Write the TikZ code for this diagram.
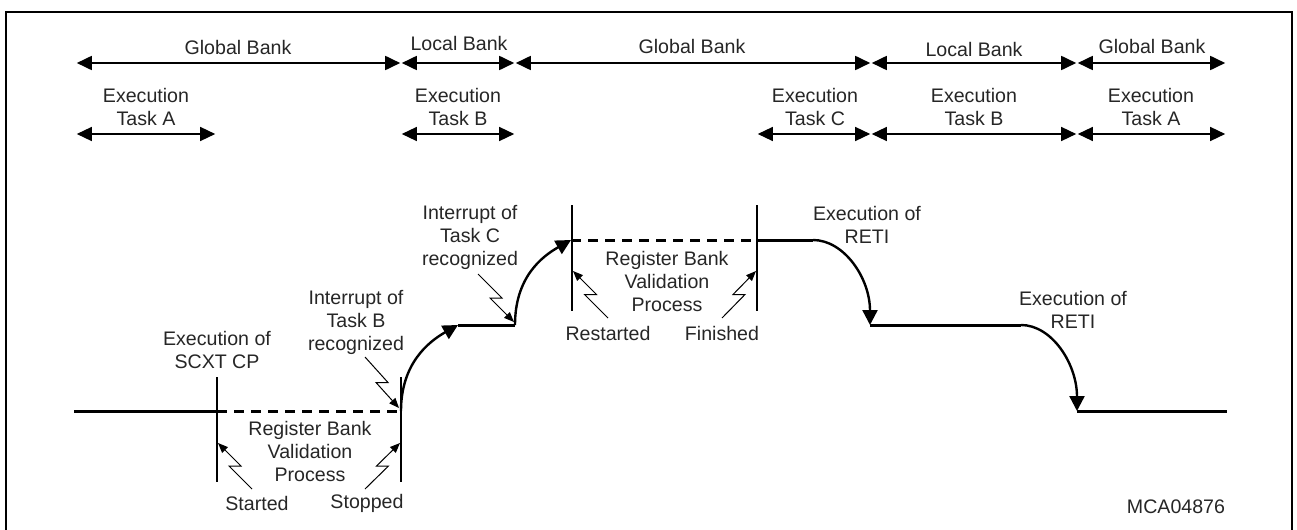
\documentclass[tikz,border=0pt]{standalone}
\usepackage{fontspec}
\setmainfont{Liberation Sans}
\usetikzlibrary{arrows.meta, calc}

\tikzset{
        bankspan/.style={{Triangle[length=7.5pt,width=7pt]}-{Triangle[length=7.5pt,width=7pt]}, line width=0.9pt, shorten <=0.4pt, shorten >=0.4pt},
        taskspan/.style={bankspan, line width=0.7pt},
        level/.style={line width=1.5pt},
        pending/.style={level, dash pattern=on 5pt off 3.5pt},
        lift/.style={-{Triangle[length=7.5pt,width=7.5pt]}, line width=1.2pt},
        marker/.style={line width=1.1pt},
        zap/.style={-{Triangle[length=5pt,width=4pt]}, line width=0.5pt},
        lbl/.style={align=center, inner sep=0pt, text=black!85}
}
\newcommand{\zig}[3]{\draw[zap] (#1) -- ($(#1)!0.5!(#2)+(#3,0)$) -- ($(#1)!0.5!(#2)-(#3,0)$) -- (#2);}

\begin{document}
\begin{tikzpicture}[x=0.5pt, y=-0.5pt, font=\fontsize{9.8}{11.5}\selectfont]
        \useasboundingbox (0,0) rectangle (1297,530);
        \draw[line width=1.1pt] (6,540) -- (6,12) -- (1292,12) -- (1292,540);

        \foreach \x [count=\i] in {76,401,515,871,1077,1226} {
        \coordinate (g\i) at (\x,63);
        }
        \foreach \i/\j in {1/2,2/3,3/4,4/5,5/6} {
        \draw[bankspan] (g\i) -- (g\j);
        }
        \node[lbl] (gbA) at (238,47) {Global Bank};
        \node[lbl] (lbB) at (459,43) {Local Bank};
        \node[lbl] (gbC) at (692,46) {Global Bank};
        \node[lbl] (lbD) at (974,49) {Local Bank};
        \node[lbl] (gbE) at (1152,46) {Global Bank};

        \foreach \x [count=\i] in {76,216,401,515,757,871,1077,1226} {
        \coordinate (t\i) at (\x,134);
        }
        \foreach \i/\j in {1/2,3/4,5/6,6/7,7/8} {
        \draw[taskspan] (t\i) -- (t\j);
        }
        \node[lbl] (exA) at (146,107) {Execution\\Task A};
        \node[lbl] (exB) at (458,107) {Execution\\Task B};
        \node[lbl] (exC) at (815,107) {Execution\\Task C};
        \node[lbl] (exD) at (974,107) {Execution\\Task B};
        \node[lbl] (exE) at (1151,107) {Execution\\Task A};

        \coordinate (w0) at (74,411);
        \coordinate (w1) at (217,411);
        \coordinate (w2) at (401,411);
        \coordinate (w3) at (458,325);
        \coordinate (w4) at (515,325);
        \coordinate (w5) at (571,240);
        \coordinate (w6) at (757,240);
        \coordinate (w7) at (813,240);
        \coordinate (w8) at (870,325);
        \coordinate (w9) at (1021,325);
        \coordinate (w10) at (1077,411);
        \coordinate (w11) at (1227,411);

        \draw[level] (w0) -- (w1);
        \draw[pending] (w1) -- (w2);
        \draw[lift] (w2) .. controls +(0,-47) and +(-30,17) .. (w3);
        \draw[level] (w3) -- (w4);
        \draw[lift] (w4) .. controls +(0,-47) and +(-30,17) .. (w5);
        \draw[pending] (w5) -- (w6);
        \draw[level] (w6) -- (w7);
        \draw[lift] (w7) .. controls +(31,0) and +(0,-47) .. (w8);
        \draw[level] (w8) -- (w9);
        \draw[lift] (w9) .. controls +(31,0) and +(0,-47) .. (w10);
        \draw[level] (w10) -- (w11);

        \foreach \x/\a/\b in {217/377/482, 401/377/482, 572/205/311, 757/205/311} {
        \draw[marker] (\x,\a) -- (\x,\b);
        }

        \node[lbl] (scxt) at (217,350) {Execution of\\SCXT CP};
        \node[lbl] (intB) at (356,322) {Interrupt of\\Task B\\recognized};
        \node[lbl] (intC) at (470,237) {Interrupt of\\Task C\\recognized};
        \node[lbl] (rbvA) at (310,451) {Register Bank\\Validation\\Process};
        \node[lbl] (rbvB) at (667,281) {Register Bank\\Validation\\Process};
        \node[lbl] (strt) at (257,503) {Started};
        \node[lbl] (stop) at (367,503) {Stopped};
        \node[lbl] (rstr) at (608,333) {Restarted};
        \node[lbl] (fini) at (722,333) {Finished};
        \node[lbl] (retA) at (867,225) {Execution of\\RETI};
        \node[lbl] (retB) at (1073,310) {Execution of\\RETI};
        \node[lbl] (code) at (1176,507) {MCA04876};

        \coordinate (zA) at (252,489);
        \coordinate (zA') at (218,443);
        \coordinate (zB) at (365,489);
        \coordinate (zB') at (400,443);
        \coordinate (zC) at (365,357);
        \coordinate (zC') at (399,408);
        \coordinate (zD) at (478,274);
        \coordinate (zD') at (514,322);
        \coordinate (zE) at (608,318);
        \coordinate (zE') at (573,271);
        \coordinate (zF) at (722,318);
        \coordinate (zF') at (756,271);
        \zig{zA}{zA'}{-6}
        \zig{zB}{zB'}{6}
        \zig{zC}{zC'}{6}
        \zig{zD}{zD'}{6}
        \zig{zE}{zE'}{-6}
        \zig{zF}{zF'}{6}
\end{tikzpicture}
\end{document}
